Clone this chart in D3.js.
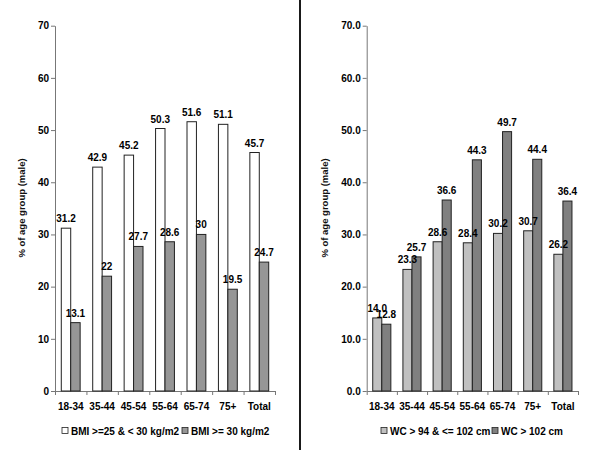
<!DOCTYPE html>
<html>
<head>
<meta charset="utf-8">
<script src="https://cdn.jsdelivr.net/npm/d3@7"></script>
<style>
  body { margin: 0; background: #fff; }
  text { font-family: "Liberation Sans", Arial, sans-serif; }
</style>
</head>
<body>
<script>
// chart values
const categories = ['18-34', '35-44', '45-54', '55-64', '65-74', '75+', 'Total']
const bmiOverweight = [31.2, 42.9, 45.2, 50.3, 51.6, 51.1, 45.7]
const bmiObese = [13.1, 22, 27.7, 28.6, 30, 19.5, 24.7]
const wcRaised = [14.0, 23.3, 28.6, 28.4, 30.2, 30.7, 26.2]
const wcHigh = [12.8, 25.7, 36.6, 44.3, 49.7, 44.4, 36.4]
const yTicks = [0, 10, 20, 30, 40, 50, 60, 70]
const bmiLegend = ['BMI >=25 & < 30 kg/m2', 'BMI >= 30 kg/m2']
const wcLegend = ['WC > 94 & <= 102 cm', 'WC > 102 cm']
const yTitle = '% of age group (male)'

const svg = d3.select('body').append('svg')
  .attr('width', 600)
  .attr('height', 450)

svg.append('rect').attr('width', 600).attr('height', 450).attr('fill', '#fff')

// divider between the two panels
svg.append('line')
  .attr('x1', 300).attr('x2', 300)
  .attr('y1', 0).attr('y2', 450)
  .attr('stroke', '#1a1a1a')
  .attr('stroke-width', 2)

function panel(opt) {
  const top = 25.7, bottom = 391
  const g = svg.append('g')

  const y = d3.scaleLinear().domain([0, 70]).range([bottom, top])
  const x = d3.scaleBand().domain(categories).range([opt.left, opt.right])
  const xs = d3.scaleBand().domain([0, 1])
    .range([x.bandwidth() * 0.2, x.bandwidth() * 0.8])

  // y axis
  const yAxis = g.append('g')
    .attr('transform', 'translate(' + opt.left + ',0)')
    .call(d3.axisLeft(y).tickValues(yTicks).tickSize(4).tickSizeOuter(0)
      .tickFormat(opt.tickFmt))
  yAxis.select('.domain').attr('stroke', '#777')
  yAxis.selectAll('.tick line').attr('stroke', '#777')
  yAxis.selectAll('.tick text')
    .attr('font-size', '10px')
    .attr('font-weight', 'bold')
    .attr('fill', '#000')
    .attr('x', -6)

  // x axis with ticks at the category boundaries
  const xb = d3.scaleLinear().domain([0, categories.length]).range([opt.left, opt.right])
  const xAxis = g.append('g')
    .attr('transform', 'translate(0,' + bottom + ')')
    .call(d3.axisBottom(xb).tickValues(d3.range(categories.length + 1))
      .tickSize(4).tickSizeOuter(0).tickFormat(''))
  xAxis.select('.domain').attr('stroke', '#777')
  xAxis.selectAll('.tick line').attr('stroke', '#777')

  g.selectAll('.xlab')
    .data(categories)
    .enter()
    .append('text')
    .attr('x', d => x(d) + x.bandwidth() / 2)
    .attr('y', bottom + 19)
    .attr('text-anchor', 'middle')
    .attr('font-size', '10px')
    .attr('font-weight', 'bold')
    .attr('fill', '#000')
    .text(d => d)

  // bars first, then all value labels on top
  opt.series.forEach(function (vals, si) {
    g.append('g').selectAll('rect')
      .data(vals)
      .enter()
      .append('rect')
      .attr('x', (d, i) => x(categories[i]) + xs(si))
      .attr('y', d => y(d))
      .attr('width', xs.bandwidth())
      .attr('height', d => bottom - y(d))
      .attr('fill', opt.colors[si])
      .attr('stroke', '#222')
      .attr('stroke-width', 1)
  })
  opt.series.forEach(function (vals, si) {
    g.append('g').selectAll('text')
      .data(vals)
      .enter()
      .append('text')
      .attr('x', (d, i) => x(categories[i]) + xs(si) + xs.bandwidth() / 2)
      .attr('y', d => y(d) - 6)
      .attr('text-anchor', 'middle')
      .attr('font-size', '10px')
      .attr('font-weight', 'bold')
      .attr('fill', '#000')
      .text(opt.valFmt)
  })

  // y title
  g.append('text')
    .attr('transform', 'translate(' + opt.titleX + ',208) rotate(-90)')
    .attr('text-anchor', 'middle')
    .attr('font-size', '9.5px')
    .attr('font-weight', 'bold')
    .attr('fill', '#111')
    .text(yTitle)

  // legend
  opt.legend.forEach(function (name, i) {
    const lx = opt.legendX[i]
    g.append('rect')
      .attr('x', lx).attr('y', 427.5)
      .attr('width', 6).attr('height', 6)
      .attr('fill', opt.colors[i])
      .attr('stroke', '#222')
      .attr('stroke-width', 0.8)
    g.append('text')
      .attr('x', lx + 9).attr('y', 434.5)
      .attr('font-size', '10px')
      .attr('font-weight', 'bold')
      .attr('fill', '#000')
      .text(name)
  })
}

panel({
  left: 55, right: 275,
  series: [bmiOverweight, bmiObese],
  colors: ['#ffffff', '#969696'],
  tickFmt: d => String(d),
  valFmt: d => String(d),
  titleX: 25,
  legend: bmiLegend,
  legendX: [62, 182]
})

panel({
  left: 366.7, right: 578,
  series: [wcRaised, wcHigh],
  colors: ['#c0c0c0', '#808080'],
  tickFmt: d3.format('.1f'),
  valFmt: d3.format('.1f'),
  titleX: 328,
  legend: wcLegend,
  legendX: [381, 492]
})
</script>
</body>
</html>
